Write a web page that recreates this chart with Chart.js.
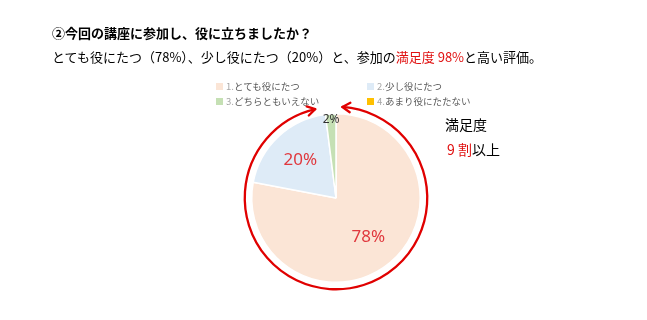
<!DOCTYPE html>
<html><head><meta charset="utf-8">
<script src="https://cdn.jsdelivr.net/npm/chart.js@4"></script>
<style>
html,body{margin:0;padding:0;background:#fff;}
#wrap{position:relative;width:647px;height:320px;overflow:hidden;font-family:"Noto Sans CJK JP",sans-serif;}
#c{position:absolute;left:0;top:0;}
.t{position:absolute;white-space:nowrap;color:#000;}
#title{left:52px;top:23px;font-size:13px;font-weight:bold;}
#sub{left:52px;top:47px;font-size:13px;letter-spacing:0px;}
.red{color:#e01010;}
#legend{position:absolute;left:216px;top:79px;display:grid;grid-template-columns:151px 120px;row-gap:1px;font-size:9.5px;color:#595959;}
.li{display:flex;align-items:center;white-space:nowrap;height:14px;}
.sw{width:7px;height:7px;margin-right:3px;}
.num{color:#a6a6a6;}
#side1{left:445px;top:114px;font-size:14px;}
#side2{left:447px;top:139px;font-size:14px;}
</style></head>
<body>
<div id="wrap">
<canvas id="c" width="647" height="320"></canvas>
<div class="t" id="title">②今回の講座に参加し、役に立ちましたか？</div>
<div class="t" id="sub">とても役にたつ（78%）、少し役にたつ（20%）と、参加の<span class="red">満足度 98%</span>と高い評価。</div>
<div id="legend"></div>
<div class="t" id="side1">満足度</div>
<div class="t" id="side2"><span class="red">9 割</span>以上</div>
</div>
<script>
const categories = ['1.とても役にたつ', '2.少し役にたつ', '3.どちらともいえない', '4.あまり役にたたない'];
const values = [78, 20, 2, 0];
const valueLabels = ['78%', '20%', '2%', ''];
const colors = ['#FBE5D6', '#DEEBF7', '#C5E0B4', '#FFC000'];

// HTML legend in two columns
const lg = document.getElementById('legend');
categories.forEach((c, i) => {
  const d = document.createElement('div'); d.className = 'li';
  const m = c.indexOf('.') + 1;
  d.innerHTML = '<span class="sw" style="background:' + colors[i] + '"></span><span class="num">' + c.slice(0, m) + '</span><span>' + c.slice(m) + '</span>';
  lg.appendChild(d);
});

const labelPlugin = {
  id: 'valLabels',
  afterDatasetsDraw(chart) {
    const ctx = chart.ctx;
    const meta = chart.getDatasetMeta(0);
    const radiusFactor = [0.6, 0.62, 0.93, 0.9];
    const fonts = ['17px', '17px', '12px', '12px'];
    const cols = ['#e0383e', '#e0383e', '#333333', '#333333'];
    meta.data.forEach((arc, i) => {
      if (!valueLabels[i]) return;
      const p = arc.getProps(['x', 'y', 'startAngle', 'endAngle', 'outerRadius'], true);
      const a = (p.startAngle + p.endAngle) / 2;
      const r = p.outerRadius * radiusFactor[i];
      ctx.save();
      ctx.font = fonts[i] + ' "Noto Sans", "Noto Sans CJK JP", sans-serif';
      ctx.fillStyle = cols[i];
      ctx.textAlign = 'center'; ctx.textBaseline = 'middle';
      ctx.fillText(valueLabels[i], p.x + Math.cos(a) * r, p.y + Math.sin(a) * r);
      ctx.restore();
    });
  }
};

const arrowPlugin = {
  id: 'ringArrow',
  afterDraw(chart) {
    const meta = chart.getDatasetMeta(0);
    const arc = meta.data[0];
    if (!arc) return;
    const p = arc.getProps(['x', 'y', 'outerRadius'], true);
    const ctx = chart.ctx;
    const R = p.outerRadius + 7;
    const aStart = -Math.PI / 2 + 0.07;            // right end near top
    const aEnd = -Math.PI / 2 - 0.23 + 2 * Math.PI; // left end near top
    ctx.save();
    ctx.strokeStyle = '#e00000';
    ctx.lineWidth = 2.3;
    ctx.lineCap = 'round'; ctx.lineJoin = 'round';
    ctx.beginPath();
    ctx.arc(p.x, p.y, R, aStart, aEnd, false);
    ctx.stroke();
    function head(theta, dir) {
      const tx = p.x + Math.cos(theta) * R, ty = p.y + Math.sin(theta) * R;
      let dx = -Math.sin(theta) * dir, dy = Math.cos(theta) * dir;
      const L = 9, w = 0.55;
      const bx = -dx, by = -dy;
      ctx.beginPath();
      ctx.moveTo(tx + L * (bx * Math.cos(w) - by * Math.sin(w)), ty + L * (bx * Math.sin(w) + by * Math.cos(w)));
      ctx.lineTo(tx, ty);
      ctx.lineTo(tx + L * (bx * Math.cos(-w) - by * Math.sin(-w)), ty + L * (bx * Math.sin(-w) + by * Math.cos(-w)));
      ctx.stroke();
    }
    head(aEnd, 1);
    head(aStart, -1);
    ctx.restore();
  }
};

new Chart(document.getElementById('c'), {
  type: 'pie',
  data: {
    labels: categories,
    datasets: [{
      data: values,
      backgroundColor: colors,
      borderColor: '#ffffff',
      borderWidth: 1.5
    }]
  },
  options: {
    responsive: false,
    animation: false,
    layout: { padding: { top: 113, bottom: 37, left: 251, right: 226 } },
    plugins: { legend: { display: false }, tooltip: { enabled: false } }
  },
  plugins: [labelPlugin, arrowPlugin]
});
</script>
</body></html>
